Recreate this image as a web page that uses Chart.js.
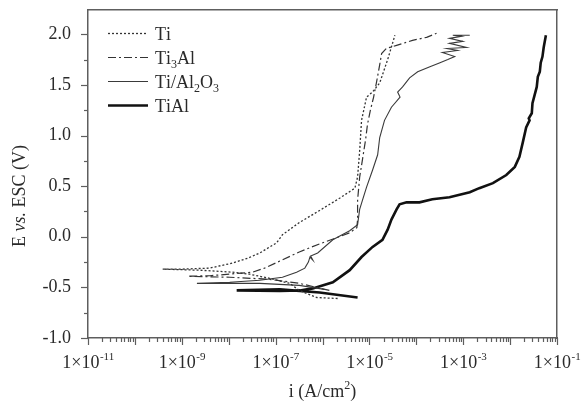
<!DOCTYPE html>
<html>
<head>
<meta charset="utf-8">
<script src="https://cdn.jsdelivr.net/npm/chart.js@4.4.1/dist/chart.umd.min.js"></script>
<style>
  html, body { margin: 0; padding: 0; background: #fff; }
  #wrap { width: 583px; height: 403px; }
</style>
</head>
<body>
<div id="wrap"><canvas id="chart" width="583" height="403"></canvas></div>
<script>
// current density i (A/cm2) and potential E (V vs ESC)
// each curve runs cathodic end -> corrosion tip -> anodic end
const tiI = [2.1e-6, 7.6e-7, 3.2e-7, 2.0e-7, 7.4e-8, 2.8e-8, 1.2e-8, 2.4e-9, 3.9e-10,
  9.1e-10, 3.9e-9, 1.2e-8, 2.6e-8, 4.6e-8, 1.05e-7, 1.4e-7, 3.2e-7, 8.7e-7, 2.3e-6,
  4.9e-6, 5.6e-6, 6.2e-6, 6.8e-6, 8.7e-6, 1.17e-5, 1.66e-5, 2.45e-5, 3.5e-5];
const tiE = [-0.61, -0.60, -0.53, -0.46, -0.41, -0.37, -0.35, -0.33, -0.32,
  -0.32, -0.31, -0.26, -0.21, -0.16, -0.06, 0.02, 0.14, 0.26, 0.38,
  0.48, 0.59, 0.85, 1.15, 1.38, 1.43, 1.52, 1.75, 1.99];

const ti3alI = [1.4e-6, 3.2e-7, 7.4e-8, 1.05e-8, 1.35e-9,
  4.0e-9, 3.2e-8, 5.8e-8, 1.23e-7, 3.2e-7, 8.7e-7, 2.0e-6, 3.8e-6, 5.4e-6, 5.6e-6,
  5.6e-6, 6.2e-6, 7.1e-6, 8.3e-6, 9.1e-6, 1.05e-5, 1.23e-5, 1.41e-5, 1.66e-5, 1.82e-5,
  2.3e-5, 3.8e-5, 8.3e-5, 1.66e-4, 2.7e-4];
const ti3alE = [-0.53, -0.46, -0.42, -0.40, -0.39,
  -0.385, -0.35, -0.31, -0.24, -0.15, -0.07, -0.01, 0.04, 0.09, 0.17,
  0.36, 0.59, 0.76, 0.96, 1.11, 1.25, 1.38, 1.52, 1.70, 1.81,
  1.86, 1.89, 1.94, 1.97, 2.01];

const tiAl2o3I = [1.1e-6, 3.2e-7, 4.6e-8, 2.1e-9,
  1.05e-8, 4.6e-8, 1.4e-7, 2.8e-7, 4.2e-7, 5.0e-7, 5.4e-7, 6.2e-7, 5.6e-7, 7.9e-7,
  1.66e-6, 3.8e-6, 5.6e-6, 6.2e-6, 7.1e-6, 8.7e-6, 1.17e-5, 1.5e-5, 1.66e-5, 2.1e-5,
  2.95e-5, 4.5e-5, 4.0e-5, 5.1e-5, 7.2e-5, 1.07e-4, 1.95e-4, 3.2e-4, 4.7e-4, 6.6e-4,
  3.6e-4, 7.6e-4, 4.5e-4, 1.17e-3, 5.1e-4, 9.8e-4, 5.1e-4, 9.1e-4, 6.0e-4, 1.38e-3];
const tiAl2o3E = [-0.52, -0.48, -0.46, -0.46,
  -0.45, -0.43, -0.40, -0.35, -0.31, -0.25, -0.20, -0.23, -0.19, -0.16,
  -0.03, 0.06, 0.12, 0.27, 0.36, 0.49, 0.66, 0.81, 0.98, 1.15,
  1.28, 1.38, 1.43, 1.48, 1.57, 1.63, 1.68, 1.72, 1.75, 1.78,
  1.82, 1.84, 1.86, 1.87, 1.91, 1.93, 1.96, 1.98, 1.99, 1.99];

const tiAlI = [5.6e-6, 8.7e-7, 1.23e-7, 1.48e-8,
  1.23e-7, 3.3e-7, 6.2e-7, 1.66e-6, 3.8e-6, 6.8e-6, 1.17e-5, 1.9e-5, 2.45e-5, 2.95e-5,
  3.8e-5, 4.4e-5, 6.2e-5, 1.17e-4, 2.2e-4, 5.1e-4, 1.38e-3, 2.2e-3, 4.3e-3, 8.3e-3,
  1.26e-2, 1.58e-2, 1.86e-2, 2.2e-2, 2.6e-2, 2.5e-2, 2.9e-2, 3.0e-2, 3.7e-2, 3.9e-2,
  4.3e-2, 4.5e-2, 4.9e-2, 5.2e-2, 5.8e-2];
const tiAlE = [-0.60, -0.55, -0.52, -0.53,
  -0.535, -0.53, -0.51, -0.45, -0.33, -0.20, -0.10, -0.03, 0.07, 0.17,
  0.27, 0.32, 0.34, 0.34, 0.37, 0.39, 0.44, 0.48, 0.53, 0.61,
  0.69, 0.79, 0.93, 1.08, 1.15, 1.17, 1.22, 1.32, 1.48, 1.58,
  1.63, 1.72, 1.78, 1.87, 1.99];

const seriesNames = ['Ti', 'Ti3Al', 'Ti/Al2O3', 'TiAl'];
const yTicks = [-1, -0.75, -0.5, -0.25, 0, 0.25, 0.5, 0.75, 1, 1.25, 1.5, 1.75, 2];
const xTickExponents = [-11, -9, -7, -5, -3, -1];

const FONT = '"Liberation Serif", "Times New Roman", serif';
const TEXT = '#2a2a2a';
const AXIS = '#5e5e5e';

const toPoints = (xs, ys) => xs.map((v, i) => ({ x: v, y: ys[i] }));
const isMajor = v => Math.abs(v * 2 - Math.round(v * 2)) < 1e-9;

// text where digits are drawn as subscripts (Ti3Al, Al2O3)
function drawChem(ctx, text, x, y) {
  for (const ch of text) {
    if (/\d/.test(ch)) {
      ctx.font = '12px ' + FONT;
      ctx.fillText(ch, x, y + 4);
    } else {
      ctx.font = '18px ' + FONT;
      ctx.fillText(ch, x, y);
    }
    x += ctx.measureText(ch).width;
  }
}

function seg(ctx, x1, y1, x2, y2) {
  ctx.beginPath();
  ctx.moveTo(x1, y1);
  ctx.lineTo(x2, y2);
  ctx.stroke();
}

const decorations = {
  id: 'decorations',
  afterDraw(chart) {
    const { ctx, chartArea: a, scales: { x, y } } = chart;
    ctx.save();
    ctx.setLineDash([]);
    ctx.strokeStyle = AXIS;

    // y tick marks (outside)
    ctx.lineWidth = 1.2;
    yTicks.forEach(v => {
      const py = Math.round(y.getPixelForValue(v)) + 0.5;
      seg(ctx, a.left - (isMajor(v) ? 7 : 4), py, a.left, py);
    });

    // x tick marks, log style
    for (let d = -11; d <= -1; d++) {
      for (let k = 1; k <= 9; k++) {
        if (d === -1 && k > 1) break;
        const px = Math.round(x.getPixelForValue(k * Math.pow(10, d))) + 0.5;
        seg(ctx, px, a.bottom, px, a.bottom + (k === 1 ? 7 : 4));
      }
    }

    // x tick labels 1x10^n
    ctx.fillStyle = TEXT;
    ctx.textBaseline = 'alphabetic';
    ctx.textAlign = 'left';
    xTickExponents.forEach(e => {
      const px = x.getPixelForValue(Math.pow(10, e));
      ctx.font = '18px ' + FONT;
      const base = '1\u00d710';
      const wb = ctx.measureText(base).width;
      ctx.font = '11px ' + FONT;
      const sup = String(e);
      const ws = ctx.measureText(sup).width;
      const x0 = px - (wb + ws) / 2;
      ctx.font = '18px ' + FONT;
      ctx.fillText(base, x0, a.bottom + 30);
      ctx.font = '11px ' + FONT;
      ctx.fillText(sup, x0 + wb + 0.5, a.bottom + 22);
    });

    // x title: i (A/cm2)
    ctx.font = '18px ' + FONT;
    const t1 = 'i (A/cm', t2 = '2', t3 = ')';
    const w1 = ctx.measureText(t1).width, w3 = ctx.measureText(t3).width;
    ctx.font = '12px ' + FONT;
    const w2 = ctx.measureText(t2).width;
    const tx = (a.left + a.right) / 2 - (w1 + w2 + w3) / 2;
    ctx.font = '18px ' + FONT;
    ctx.fillText(t1, tx, 397);
    ctx.font = '12px ' + FONT;
    ctx.fillText(t2, tx + w1, 389);
    ctx.font = '18px ' + FONT;
    ctx.fillText(t3, tx + w1 + w2, 397);

    // y title: E vs. ESC (V)
    ctx.save();
    ctx.translate(25, 196);
    ctx.rotate(-Math.PI / 2);
    const parts = [['E ', ''], ['vs.', 'italic '], [' ESC (V)', '']];
    let total = 0;
    parts.forEach(p => { ctx.font = p[1] + '18px ' + FONT; total += ctx.measureText(p[0]).width; });
    let ty = -total / 2;
    parts.forEach(p => {
      ctx.font = p[1] + '18px ' + FONT;
      ctx.fillText(p[0], ty, 0);
      ty += ctx.measureText(p[0]).width;
    });
    ctx.restore();

    // legend
    chart.data.datasets.forEach((ds, i) => {
      const ly = 33.5 + i * 24;
      ctx.strokeStyle = ds.borderColor;
      ctx.lineWidth = ds.borderWidth;
      ctx.setLineDash(ds.borderDash || []);
      seg(ctx, 108, ly, 148, ly);
      ctx.setLineDash([]);
      ctx.fillStyle = TEXT;
      drawChem(ctx, seriesNames[i], 155, ly + 6);
    });

    ctx.restore();
  }
};

// shared settings for the four axis lines that make the box
const hiddenTicks = { display: false };
const noGrid = { display: false, drawTicks: false };
const frameBorder = { display: true, color: AXIS, width: 1.5 };

new Chart(document.getElementById('chart'), {
  type: 'scatter',
  data: {
    datasets: [
      { label: seriesNames[0], data: toPoints(tiI, tiE), borderColor: '#333', borderWidth: 1.3, borderDash: [2, 2] },
      { label: seriesNames[1], data: toPoints(ti3alI, ti3alE), borderColor: '#333', borderWidth: 1.2, borderDash: [8, 3, 2, 3] },
      { label: seriesNames[2], data: toPoints(tiAl2o3I, tiAl2o3E), borderColor: '#3a3a3a', borderWidth: 1.1 },
      { label: seriesNames[3], data: toPoints(tiAlI, tiAlE), borderColor: '#111', borderWidth: 2.6 }
    ].map(ds => Object.assign(ds, { showLine: true, pointRadius: 0, fill: false, tension: 0 }))
  },
  options: {
    responsive: false,
    animation: false,
    layout: { padding: { top: 10, right: 26, left: 0, bottom: 0 } },
    plugins: { legend: { display: false }, tooltip: { enabled: false } },
    scales: {
      x: {
        type: 'logarithmic',
        min: 1e-11,
        max: 1e-1,
        ticks: hiddenTicks,
        grid: noGrid,
        border: frameBorder,
        afterFit: s => { s.height = 65; s.paddingLeft = 0; s.paddingRight = 0; }
      },
      xTop: {
        type: 'logarithmic',
        position: 'top',
        min: 1e-11,
        max: 1e-1,
        ticks: hiddenTicks,
        grid: noGrid,
        border: frameBorder,
        afterFit: s => { s.height = 0; s.paddingLeft = 0; s.paddingRight = 0; }
      },
      y: {
        min: -1,
        max: 2.24,
        afterBuildTicks: s => { s.ticks = yTicks.map(v => ({ value: v })); },
        ticks: {
          autoSkip: false,
          padding: 17,
          color: TEXT,
          font: { family: FONT, size: 18, lineHeight: 1 },
          callback: v => isMajor(v) ? v.toFixed(1) : ''
        },
        grid: noGrid,
        border: frameBorder,
        afterFit: s => { s.width = 88; s.paddingTop = 0; s.paddingBottom = 0; }
      },
      yRight: {
        position: 'right',
        min: -1,
        max: 2.24,
        ticks: hiddenTicks,
        grid: noGrid,
        border: frameBorder,
        afterFit: s => { s.width = 0; s.paddingTop = 0; s.paddingBottom = 0; }
      }
    }
  },
  plugins: [decorations]
});
</script>
</body>
</html>
